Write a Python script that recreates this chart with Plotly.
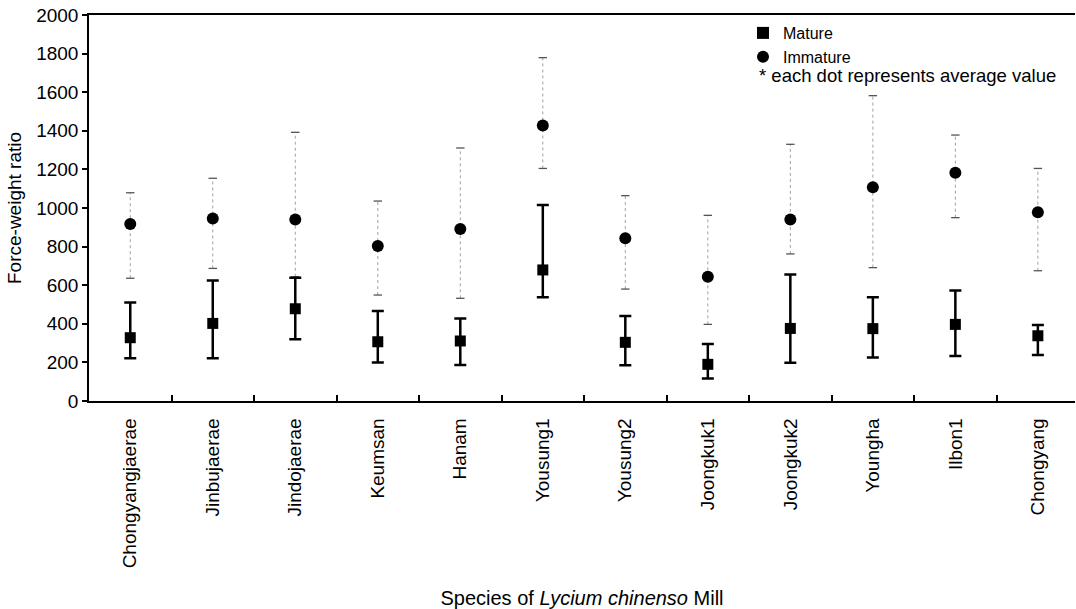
import plotly.graph_objects as go

categories = ["Chongyangjaerae", "Jinbujaerae", "Jindojaerae", "Keumsan", "Hanam",
              "Yousung1", "Yousung2", "Joongkuk1", "Joongkuk2", "Youngha", "Ilbon1", "Chongyang"]

mature_mean = [328, 402, 478, 307, 311, 679, 304, 190, 376, 375, 397, 338]
mature_high = [511, 625, 639, 466, 427, 1015, 440, 295, 655, 537, 572, 394]
mature_low = [221, 221, 320, 200, 187, 537, 185, 117, 198, 226, 233, 238]

immature_mean = [917, 946, 941, 803, 891, 1427, 843, 644, 941, 1107, 1183, 978]
immature_high = [1079, 1154, 1392, 1036, 1311, 1779, 1064, 962, 1330, 1582, 1378, 1205]
immature_low = [636, 687, 644, 549, 532, 1205, 580, 397, 762, 691, 950, 675]

FONT = "Liberation Sans, Arial, sans-serif"

W, H = 1076, 609
PL, PR, PT, PB = 89, 1075, 15, 401  # plot area in page pixels

fig = go.Figure()

# dotted error lines for immature
lx, ly = [], []
for c, lo, hi in zip(categories, immature_low, immature_high):
    lx += [c, c, None]
    ly += [lo, hi, None]
fig.add_trace(go.Scatter(x=lx, y=ly, mode="lines", showlegend=False, hoverinfo="skip",
                         line=dict(color="#a0a0a0", width=1, dash="dot")))
# caps for immature
fig.add_trace(go.Scatter(x=categories + categories, y=immature_high + immature_low,
                         mode="markers", showlegend=False, hoverinfo="skip",
                         marker=dict(symbol="line-ew", size=6, line=dict(color="#555", width=1.3))))

fig.add_trace(go.Scatter(
    x=categories, y=mature_mean, mode="markers", name="Mature", legendrank=1,
    marker=dict(symbol="square", size=11, color="black"),
    error_y=dict(type="data", symmetric=False,
                 array=[h - m for h, m in zip(mature_high, mature_mean)],
                 arrayminus=[m - l for m, l in zip(mature_mean, mature_low)],
                 color="black", thickness=2.5, width=6),
))
fig.add_trace(go.Scatter(
    x=categories, y=immature_mean, mode="markers", name="Immature", legendrank=2,
    marker=dict(symbol="circle", size=12, color="black"),
))

pw, ph = PR - PL, PB - PT
fig.add_annotation(xref="paper", yref="paper", x=(757 - PL) / pw, y=(PB - 75) / ph,
                   xanchor="left", yanchor="middle", showarrow=False,
                   text="* each dot represents average value",
                   font=dict(family=FONT, size=18.5, color="black"))

fig.update_layout(
    width=W, height=H,
    margin=dict(l=PL, r=W - PR, t=PT, b=H - PB),
    plot_bgcolor="white", paper_bgcolor="white",
    font=dict(family=FONT, size=19, color="black"),
    legend=dict(x=(743 - PL) / pw, y=(PB - 16) / ph, xanchor="left", yanchor="top",
                bgcolor="rgba(0,0,0,0)", font=dict(size=16), tracegroupgap=0,
                itemsizing="constant"),
    showlegend=True,
)
fig.update_xaxes(
    type="category", range=[-0.5, 11.45], tickangle=-90, automargin=False,
    tickson="boundaries", ticks="inside", ticklen=6, tickcolor="black", tickwidth=1.5,
    showline=True, linecolor="black", linewidth=1.5, mirror=True, showgrid=False,
    tickfont=dict(size=19), ticklabelstandoff=8, ticklabeloverflow="allow",
    title=dict(text="Species of <i>Lycium chinenso</i> Mill", font=dict(size=20), standoff=24),
)
fig.update_yaxes(
    range=[0, 2000], dtick=200, ticks="outside", ticklen=5, tickcolor="black", tickwidth=1.5,
    showline=True, linecolor="black", linewidth=1.5, showgrid=False, zeroline=False,
    tickfont=dict(size=19), ticklabeloverflow="allow", automargin=False,
    title=dict(text="Force-weight ratio", font=dict(size=19), standoff=10),
)

fig.write_html("out.html", config={"displayModeBar": False},
               post_script="document.body.style.margin='0';")
